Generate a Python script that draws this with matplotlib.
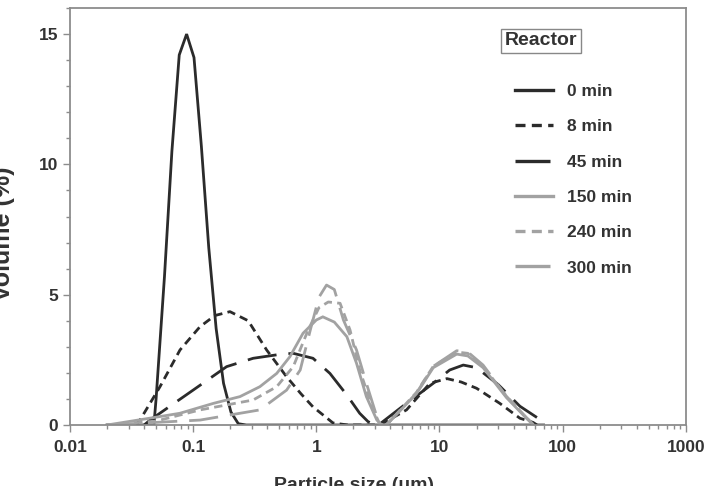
import matplotlib
matplotlib.use('Agg')
import matplotlib.pyplot as plt
from matplotlib.ticker import LogLocator, NullFormatter, FixedLocator, MultipleLocator

plt.rcParams['font.family'] = ['Liberation Sans', 'DejaVu Sans']
plt.rcParams['font.weight'] = 'bold'

# Particle size distributions (volume %)
x_0 = [0.02, 0.048, 0.050, 0.0585, 0.0672, 0.0771, 0.0885, 0.1016, 0.1166, 0.1339,
       0.1537, 0.1765, 0.2026, 0.2326, 0.27, 1, 3, 10, 70]
y_0 = [0, 0, 1.0, 5.7, 10.5, 14.2, 15.0, 14.1, 10.7, 6.8,
       3.7, 1.6, 0.5, 0.05, 0, 0, 0, 0, 0]

x_8 = [0.034, 0.037, 0.0538, 0.0782, 0.1135, 0.15, 0.199, 0.28, 0.395, 0.574, 0.75,
       0.938, 1.365, 1.8, 3.0, 3.49, 5.4, 8.36, 11.5, 15, 20, 30.9, 45, 57.5, 62]
y_8 = [0, 0.19, 1.47, 2.88, 3.77, 4.2, 4.35, 4.0, 2.88, 1.85, 1.2,
       0.7, 0.08, 0, 0, 0.07, 0.58, 1.6, 1.78, 1.65, 1.41, 0.83, 0.26, 0.1, 0]

x_45 = [0.04, 0.0447, 0.1, 0.187, 0.307, 0.505, 0.65, 0.94, 1.29, 1.77, 2.25, 2.63,
        3.0, 3.3, 4.78, 8.9, 12.1, 15.6, 20, 30, 45, 69.5, 72]
y_45 = [0, 0.19, 1.34, 2.24, 2.56, 2.71, 2.75, 2.56, 1.98, 1.15, 0.45, 0.13,
        0, 0.05, 0.64, 1.6, 2.11, 2.3, 2.2, 1.55, 0.72, 0.13, 0]

x_150 = [0.02, 0.05, 0.078, 0.146, 0.24, 0.348, 0.477, 0.61, 0.78, 1.0, 1.13, 1.4,
         1.77, 2.12, 2.55, 3.1, 3.4, 3.7, 6.5, 8.9, 13.8, 17, 22.6, 35, 51, 58]
y_150 = [0, 0.3, 0.45, 0.83, 1.09, 1.47, 1.98, 2.62, 3.52, 4.03, 4.15, 3.95,
         3.39, 2.37, 1.09, 0.19, 0, 0, 1.2, 2.2, 2.72, 2.65, 2.2, 1.05, 0.25, 0]

x_240 = [0.02, 0.05, 0.114, 0.187, 0.307, 0.477, 0.65, 0.85, 1.05, 1.25, 1.56,
         1.88, 2.25, 2.9, 3.3, 3.7, 6.5, 8.9, 13.8, 17, 22.6, 35, 51, 58]
y_240 = [0, 0.15, 0.58, 0.77, 0.96, 1.47, 2.24, 3.6, 4.5, 4.72, 4.67,
         3.64, 2.11, 0.58, 0, 0, 1.25, 2.25, 2.8, 2.75, 2.25, 1.1, 0.28, 0]

x_300 = [0.02, 0.05, 0.114, 0.24, 0.348, 0.574, 0.74, 0.9, 1.05, 1.21, 1.4, 1.66,
         2.12, 2.55, 3.1, 3.4, 3.7, 6.5, 8.9, 13.8, 17, 22.6, 35, 51, 58]
y_300 = [0, 0.1, 0.19, 0.45, 0.58, 1.34, 2.11, 3.7, 4.9, 5.37, 5.2, 4.03,
         2.88, 1.6, 0.32, 0, 0, 1.22, 2.25, 2.85, 2.8, 2.3, 1.1, 0.28, 0]

labels = ['0 min', '8 min', '45 min', '150 min', '240 min', '300 min']
x_ticks = [0.01, 0.1, 1, 10, 100, 1000]
x_tick_labels = ['0.01', '0.1', '1', '10', '100', '1000']
y_ticks = [0, 5, 10, 15]

DARK = '#2b2b2b'
GRAY = '#a2a2a2'
AXIS = '#8c8c8c'
TEXT = '#333333'
SHORT = (0, (3.0, 1.9))
LONG = (0, (10.5, 4.3))

fig = plt.figure(figsize=(7.07, 4.86), dpi=100)
ax = fig.add_axes([0.099, 0.1255, 0.871, 0.858])

series = [
    (x_0, y_0, DARK, 'solid'),
    (x_8, y_8, DARK, SHORT),
    (x_45, y_45, DARK, LONG),
    (x_150, y_150, GRAY, 'solid'),
    (x_240, y_240, GRAY, SHORT),
    (x_300, y_300, GRAY, LONG),
]
for (xs, ys, c, ls), lab in zip(series, labels):
    ax.plot(xs, ys, color=c, linestyle=ls, linewidth=2.0, label=lab,
            solid_joinstyle='miter', dash_capstyle='butt')

ax.set_xscale('log')
ax.set_xlim(0.01, 1000)
ax.set_ylim(0, 16)

ax.xaxis.set_major_locator(FixedLocator(x_ticks))
ax.set_xticklabels(x_tick_labels)
ax.xaxis.set_minor_locator(LogLocator(base=10, subs=range(2, 10), numticks=20))
ax.xaxis.set_minor_formatter(NullFormatter())
ax.yaxis.set_major_locator(FixedLocator(y_ticks))
ax.yaxis.set_minor_locator(MultipleLocator(1))

ax.tick_params(which='both', direction='out', color=AXIS, width=1.0,
               labelsize=12.5, labelcolor=TEXT)
ax.tick_params(which='major', length=5)
ax.tick_params(which='minor', length=3)
ax.tick_params(axis='x', pad=6)
for s in ax.spines.values():
    s.set_color(AXIS)
    s.set_linewidth(1.3)

leg = ax.legend(loc='upper left', bbox_to_anchor=(0.722, 0.818), frameon=False,
                fontsize=12.5, handlelength=2.2, handletextpad=0.8,
                labelspacing=1.16, borderpad=0, borderaxespad=0)
for t in leg.get_texts():
    t.set_color(TEXT)
for h in leg.get_lines():
    h.set_linewidth(2.4)

ax.text(0.7646, 0.921, 'Reactor', transform=ax.transAxes, ha='center', va='center',
        fontsize=14, color=TEXT,
        bbox=dict(boxstyle='square,pad=0.2', facecolor='white', edgecolor='#888888',
                  linewidth=1.0))

fig.text(15 / 707, (486 - 234) / 486, 'Volume (%)', rotation=90, ha='right',
         va='center', fontsize=18, color=TEXT)
fig.text(354 / 707, (486 - 490) / 486, 'Particle size (\u03bcm)', ha='center',
         va='baseline', fontsize=14, color=TEXT)

fig.savefig('out.png', dpi=100)
